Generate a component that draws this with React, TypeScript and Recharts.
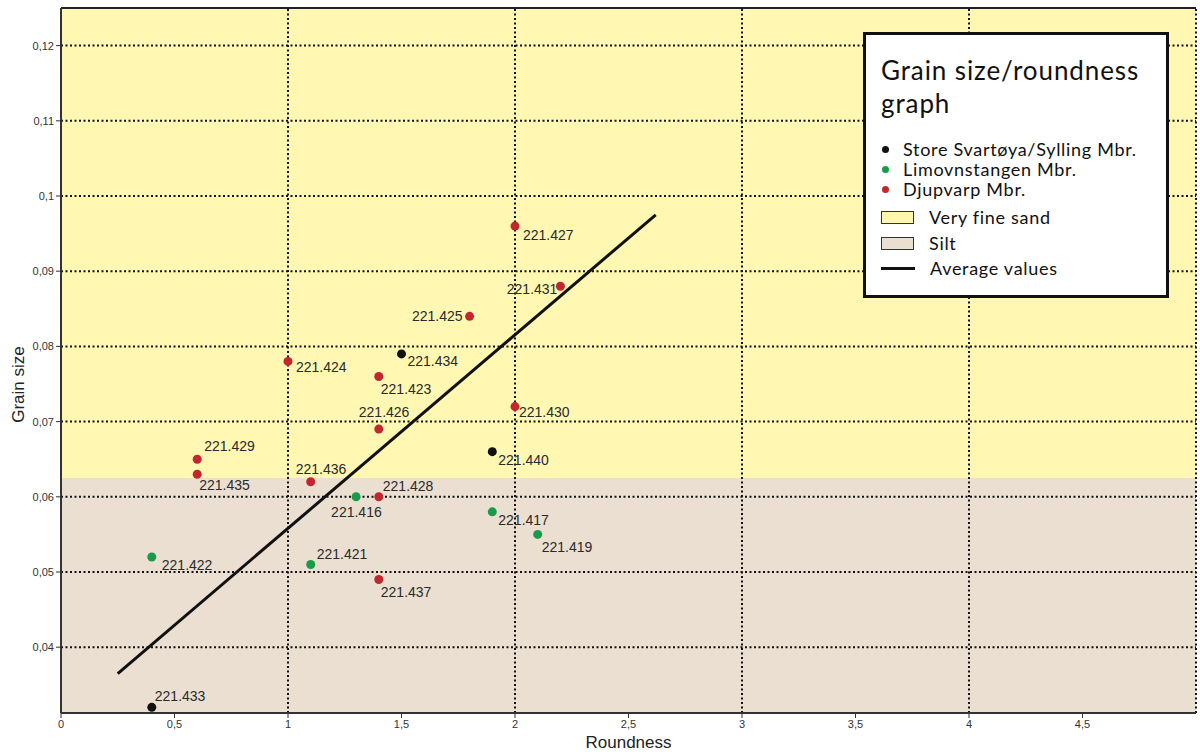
import {
  ScatterChart,
  Scatter,
  XAxis,
  YAxis,
  ReferenceArea,
  ReferenceLine,
} from "recharts";

// samples per member: roundness (x) vs grain size in mm (y)
const storeSvartoya = [
  { id: "221.433", x: 0.4, y: 0.032 },
  { id: "221.434", x: 1.5, y: 0.079 },
  { id: "221.440", x: 1.9, y: 0.066 },
];

const limovnstangen = [
  { id: "221.422", x: 0.4, y: 0.052 },
  { id: "221.421", x: 1.1, y: 0.051 },
  { id: "221.416", x: 1.3, y: 0.06 },
  { id: "221.417", x: 1.9, y: 0.058 },
  { id: "221.419", x: 2.1, y: 0.055 },
];

const djupvarp = [
  { id: "221.427", x: 2.0, y: 0.096 },
  { id: "221.431", x: 2.2, y: 0.088 },
  { id: "221.425", x: 1.8, y: 0.084 },
  { id: "221.424", x: 1.0, y: 0.078 },
  { id: "221.423", x: 1.4, y: 0.076 },
  { id: "221.430", x: 2.0, y: 0.072 },
  { id: "221.426", x: 1.4, y: 0.069 },
  { id: "221.429", x: 0.6, y: 0.065 },
  { id: "221.435", x: 0.6, y: 0.063 },
  { id: "221.436", x: 1.1, y: 0.062 },
  { id: "221.428", x: 1.4, y: 0.06 },
  { id: "221.437", x: 1.4, y: 0.049 },
];

// average values line end points
const trendX = [0.25, 2.62];
const trendY = [0.0365, 0.0975];

const xTicks = [0, 0.5, 1, 1.5, 2, 2.5, 3, 3.5, 4, 4.5];
const yTicks = [0.04, 0.05, 0.06, 0.07, 0.08, 0.09, 0.1, 0.11, 0.12];
const xGrid = [1, 2, 3, 4, 5];

const sandRange = [0.0625, 0.125];
const siltRange = [0.03125, 0.0625];

// where each sample label sits relative to its dot: dx, dy, anchor
const labelPlace: Record<string, [number, number, string]> = {
  "221.433": [3, -11, "start"],
  "221.434": [6, 7, "start"],
  "221.440": [6, 8, "start"],
  "221.422": [10, 8, "start"],
  "221.421": [6, -10, "start"],
  "221.416": [-25, 15, "start"],
  "221.417": [6, 8, "start"],
  "221.419": [4, 13, "start"],
  "221.427": [8, 9, "start"],
  "221.431": [-3, 3, "end"],
  "221.425": [-7, 0, "end"],
  "221.424": [8, 6, "start"],
  "221.423": [2, 13, "start"],
  "221.430": [4, 5, "start"],
  "221.426": [-20, -17, "start"],
  "221.429": [7, -13, "start"],
  "221.435": [2, 11, "start"],
  "221.436": [-15, -13, "start"],
  "221.428": [4, -11, "start"],
  "221.437": [2, 12, "start"],
};

const SANS = "Arial, 'Liberation Sans', sans-serif";
const LEGEND_FONT = "Lato, 'Open Sans', sans-serif";

const comma = (v: number) => String(v).replace(".", ",");

const makeDot = (color: string) => (props: any) => {
  const { cx, cy, payload } = props;
  const [dx, dy, anchor] = labelPlace[payload.id] || [6, 6, "start"];
  return (
    <g>
      <circle cx={cx} cy={cy} r={4.5} fill={color} />
      <text
        x={cx + dx}
        y={cy + dy}
        textAnchor={anchor as any}
        dominantBaseline="central"
        fontFamily={SANS}
        fontSize={14}
        fill="#2a2a2a"
      >
        {payload.id}
      </text>
    </g>
  );
};

const YLabel = (props: any) => {
  const { viewBox } = props;
  const x = viewBox.x + 18;
  const y = viewBox.y + viewBox.height / 2 + 24;
  return (
    <text
      x={x}
      y={y}
      transform={`rotate(-90 ${x} ${y})`}
      textAnchor="middle"
      dominantBaseline="central"
      fontFamily={SANS}
      fontSize={17}
      fill="#222"
    >
      Grain size
    </text>
  );
};

const XLabel = (props: any) => {
  const { viewBox } = props;
  return (
    <text
      x={viewBox.x + viewBox.width / 2}
      y={742}
      textAnchor="middle"
      dominantBaseline="central"
      fontFamily={SANS}
      fontSize={17}
      fill="#222"
    >
      Roundness
    </text>
  );
};

const legendSeries = [
  { label: "Store Svartøya/Sylling Mbr.", color: "#111111" },
  { label: "Limovnstangen Mbr.", color: "#1a9b4a" },
  { label: "Djupvarp Mbr.", color: "#c1272d" },
];

const swatch = {
  width: 31,
  height: 11,
  border: "1.5px solid #333",
  marginRight: 15,
};

const GrainLegend = () => (
  <div
    style={{
      position: "absolute",
      left: 863,
      top: 32,
      width: 300,
      height: 260,
      border: "3px solid #111",
      background: "#fff",
      fontFamily: LEGEND_FONT,
      color: "#111",
      boxSizing: "content-box",
    }}
  >
    <div
      style={{
        position: "absolute",
        left: 15,
        top: 19,
        fontSize: 26,
        lineHeight: "33px",
        letterSpacing: 0.9,
      }}
    >
      Grain size/roundness
      <br />
      graph
    </div>
    <div
      style={{
        position: "absolute",
        left: 13,
        top: 104,
        fontSize: 18,
        letterSpacing: 0.7,
      }}
    >
      {legendSeries.map((s) => (
        <div
          key={s.label}
          style={{ display: "flex", alignItems: "center", height: 20 }}
        >
          <span
            style={{
              width: 7,
              height: 7,
              borderRadius: "50%",
              background: s.color,
              marginLeft: 3,
              marginRight: 14,
            }}
          />
          {s.label}
        </div>
      ))}
      <div
        style={{
          display: "flex",
          alignItems: "center",
          height: 26,
          marginTop: 5,
        }}
      >
        <span style={{ ...swatch, background: "#fff6b0", marginLeft: 2 }} />
        Very fine sand
      </div>
      <div style={{ display: "flex", alignItems: "center", height: 26 }}>
        <span style={{ ...swatch, background: "#ebdfd1", marginLeft: 2 }} />
        Silt
      </div>
      <div style={{ display: "flex", alignItems: "center", height: 24 }}>
        <span
          style={{
            width: 34,
            height: 3,
            background: "#111",
            marginLeft: 2,
            marginRight: 15,
          }}
        />
        Average values
      </div>
    </div>
  </div>
);

export default function App() {
  return (
    <div
      style={{
        position: "absolute",
        left: 0,
        top: 0,
        width: 1200,
        height: 755,
        background: "#fff",
      }}
    >
      <ScatterChart
        width={1200}
        height={755}
        margin={{ top: 8, right: 4, bottom: 0, left: 0 }}
      >
        <XAxis
          type="number"
          dataKey="x"
          domain={[0, 5]}
          ticks={xTicks}
          allowDataOverflow
          height={42}
          tickSize={5}
          tickFormatter={comma}
          tick={{ fill: "#333", fontSize: 11, fontFamily: SANS }}
          axisLine={{ stroke: "#333", strokeWidth: 2 }}
          tickLine={{ stroke: "#333" }}
          label={<XLabel />}
        />
        <YAxis
          type="number"
          dataKey="y"
          domain={[siltRange[0], sandRange[1]]}
          ticks={yTicks}
          allowDataOverflow
          width={61}
          tickSize={5}
          tickFormatter={comma}
          tick={{ fill: "#333", fontSize: 11, fontFamily: SANS }}
          axisLine={{ stroke: "#333", strokeWidth: 2 }}
          tickLine={{ stroke: "#333" }}
          label={<YLabel />}
        />
        <ReferenceArea
          y1={sandRange[0]}
          y2={sandRange[1]}
          fill="#fff7b2"
          fillOpacity={1}
          stroke="none"
        />
        <ReferenceArea
          y1={siltRange[0]}
          y2={siltRange[1]}
          fill="#ebdfd1"
          fillOpacity={1}
          stroke="none"
        />
        {yTicks.map((v) => (
          <ReferenceLine
            key={"h" + v}
            y={v}
            stroke="#111"
            strokeWidth={2}
            strokeDasharray="2 2.5"
          />
        ))}
        {xGrid.map((v) => (
          <ReferenceLine
            key={"v" + v}
            x={v}
            stroke="#111"
            strokeWidth={2}
            strokeDasharray="2 2.5"
          />
        ))}
        <ReferenceLine y={sandRange[1]} stroke="#222" strokeWidth={2} />
        <ReferenceLine
          segment={[
            { x: trendX[0], y: trendY[0] },
            { x: trendX[1], y: trendY[1] },
          ]}
          stroke="#111"
          strokeWidth={3}
        />
        <Scatter
          name="Store Svartøya/Sylling Mbr."
          data={storeSvartoya}
          fill="#111111"
          shape={makeDot("#111111")}
          isAnimationActive={false}
        />
        <Scatter
          name="Limovnstangen Mbr."
          data={limovnstangen}
          fill="#1a9b4a"
          shape={makeDot("#1a9b4a")}
          isAnimationActive={false}
        />
        <Scatter
          name="Djupvarp Mbr."
          data={djupvarp}
          fill="#c1272d"
          shape={makeDot("#c1272d")}
          isAnimationActive={false}
        />
      </ScatterChart>
      <GrainLegend />
    </div>
  );
}
